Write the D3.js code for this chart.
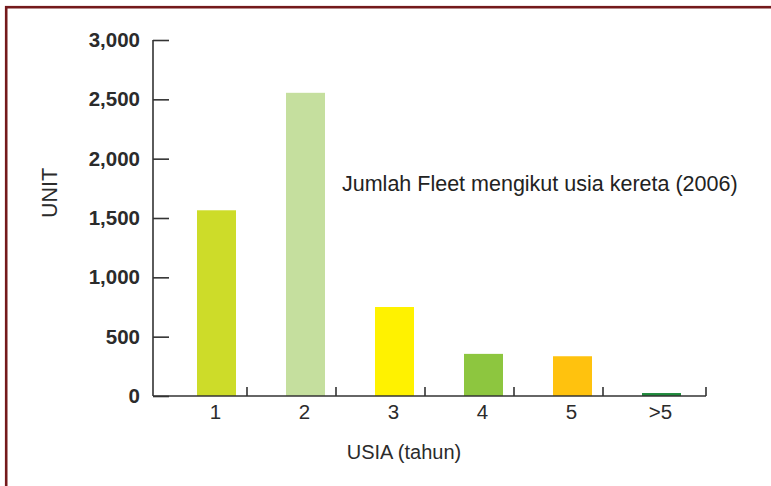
<!DOCTYPE html>
<html>
<head>
<meta charset="utf-8">
<script src="https://cdn.jsdelivr.net/npm/d3@7"></script>
<style>
  html, body { margin: 0; padding: 0; background: #fff; }
  svg { display: block; font-family: "Liberation Sans", Arial, sans-serif; }
</style>
</head>
<body>
<svg id="chart" width="771" height="486"></svg>
<script>
// Fleet count by vehicle age (2006)
const categories = ["1", "2", "3", "4", "5", ">5"];
const units = [1565, 2555, 750, 355, 335, 25];
const barColors = ["#cddc29", "#c5df9e", "#fff200", "#8dc63f", "#ffc20e", "#1f8a3c"];
const yTicks = [0, 500, 1000, 1500, 2000, 2500, 3000];

const svg = d3.select("#chart");
const axisColor = "#333";

// frame
svg.append("rect")
  .attr("x", 6.2).attr("y", 7.2)
  .attr("width", 820).attr("height", 520)
  .attr("fill", "none")
  .attr("stroke", "#741a1c")
  .attr("stroke-width", 2.6);

const x0 = 153, yTop = 40, yBase = 396;

const x = d3.scaleBand()
  .domain(categories)
  .range([172, 706])
  .paddingInner(0.5618)
  .paddingOuter(0.2809);

const y = d3.scaleLinear().domain([0, 3000]).range([yBase, yTop]);

// bars
svg.append("g").selectAll("rect")
  .data(units)
  .join("rect")
  .attr("x", (d, i) => x(categories[i]))
  .attr("width", x.bandwidth())
  .attr("y", d => y(d))
  .attr("height", d => y(0) - y(d))
  .attr("fill", (d, i) => barColors[i]);

// y axis
const yAxis = svg.append("g").attr("transform", `translate(${x0},0)`)
  .call(d3.axisRight(y).tickValues(yTicks).tickSize(16).tickFormat(""));
yAxis.select(".domain").attr("d", `M0,${yTop}V${yBase}`);
yAxis.selectAll("line, path").attr("stroke", axisColor).attr("stroke-width", 1.6);

svg.append("g").selectAll("text")
  .data(yTicks)
  .join("text")
  .attr("x", 140)
  .attr("y", d => y(d) + 7)
  .attr("text-anchor", "end")
  .attr("font-size", 20.5)
  .attr("font-weight", "bold")
  .attr("fill", "#2b2b2b")
  .text(d => d3.format(",")(d));

// x axis baseline with boundary ticks
svg.append("line")
  .attr("x1", x0).attr("x2", x.range()[1])
  .attr("y1", yBase).attr("y2", yBase)
  .attr("stroke", axisColor).attr("stroke-width", 1.6);

const boundaries = categories.slice(0, -1).map(c => x(c) + x.bandwidth() + 11)
  .concat([x.range()[1]]);
svg.append("g").selectAll("line")
  .data(boundaries)
  .join("line")
  .attr("x1", d => d).attr("x2", d => d)
  .attr("y1", yBase - 9).attr("y2", yBase)
  .attr("stroke", axisColor).attr("stroke-width", 1.6);

svg.append("g").selectAll("text")
  .data(categories)
  .join("text")
  .attr("x", d => x(d) + x.bandwidth() / 2 - 1)
  .attr("y", 419)
  .attr("text-anchor", "middle")
  .attr("font-size", 20.5)
  .attr("fill", "#2b2b2b")
  .text(d => d);

// axis titles
svg.append("text")
  .attr("transform", "translate(57,193) rotate(-90)")
  .attr("text-anchor", "middle")
  .attr("font-size", 21.5)
  .attr("fill", "#2b2b2b")
  .text("UNIT");

svg.append("text")
  .attr("x", 404).attr("y", 459)
  .attr("text-anchor", "middle")
  .attr("font-size", 20)
  .attr("fill", "#2b2b2b")
  .text("USIA (tahun)");

// chart caption
svg.append("text")
  .attr("x", 342).attr("y", 191)
  .attr("font-size", 21.5)
  .attr("fill", "#222")
  .text("Jumlah Fleet mengikut usia kereta (2006)");
</script>
</body>
</html>
